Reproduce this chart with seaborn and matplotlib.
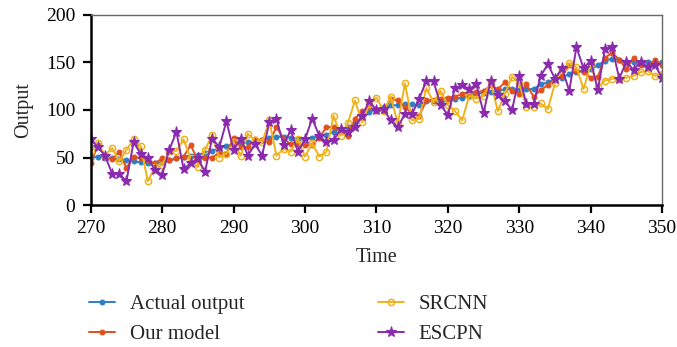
import numpy as np
import pandas as pd
import matplotlib
matplotlib.use("Agg")
import matplotlib.pyplot as plt
import seaborn as sns

time = list(range(270, 351))

actual_output = [50, 51, 50, 49, 48, 47, 46, 45, 44, 44,
                 45, 47, 49, 51, 52, 53, 55, 57, 60, 62,
                 64, 65, 66, 66, 68, 71, 72, 72, 71, 70,
                 70, 71, 72, 74, 77, 80, 82, 86, 92, 98,
                 101, 103, 105, 105, 106, 106, 105, 109, 109, 108,
                 110, 112, 113, 115, 117, 118, 119, 120, 122, 122,
                 121, 122, 122, 127, 129, 133, 134, 138, 140, 142,
                 143, 147, 152, 154, 153, 151, 150, 150, 150, 150, 150]

our_model = [44, 63, 52, 48, 56, 39, 51, 49, 47, 44,
             49, 47, 49, 51, 63, 47, 50, 50, 55, 54,
             71, 61, 61, 70, 68, 66, 82, 70, 64, 64,
             63, 63, 71, 82, 82, 77, 73, 91, 99, 103,
             99, 99, 112, 110, 103, 96, 94, 110, 111, 112,
             113, 114, 117, 119, 119, 120, 126, 122, 129, 120,
             117, 127, 114, 121, 126, 133, 136, 147, 141, 140,
             134, 135, 155, 160, 153, 143, 155, 147, 145, 153, 147]

srcnn = [57, 65, 52, 60, 46, 58, 69, 62, 25, 40,
         42, 57, 57, 69, 49, 40, 58, 74, 50, 54,
         66, 52, 75, 68, 66, 89, 52, 59, 56, 70,
         51, 65, 51, 56, 94, 73, 86, 110, 87, 106,
         113, 99, 114, 86, 128, 89, 91, 123, 108, 120,
         105, 99, 89, 115, 112, 115, 129, 99, 117, 135,
         128, 103, 103, 107, 101, 128, 143, 149, 145, 122,
         148, 124, 131, 133, 133, 134, 136, 140, 141, 136, 138]

escpn = [69, 61, 52, 33, 33, 25, 66, 54, 49, 37,
         32, 58, 77, 38, 44, 49, 35, 70, 61, 88,
         58, 70, 52, 64, 52, 87, 91, 63, 79, 56,
         69, 91, 73, 66, 68, 80, 77, 82, 94, 109,
         100, 101, 89, 82, 96, 96, 112, 131, 130, 105,
         95, 123, 126, 122, 127, 97, 131, 116, 109, 100,
         136, 106, 106, 136, 148, 133, 144, 120, 166, 144,
         152, 121, 164, 166, 133, 151, 142, 151, 145, 147, 134]

series_names = ["Actual output", "Our model", "SRCNN", "ESCPN"]
x_ticks = [270, 280, 290, 300, 310, 320, 330, 340, 350]
y_ticks = [0, 50, 100, 150, 200]

sns.set_style("ticks")
plt.rcParams['font.family'] = ['Liberation Serif', 'DejaVu Serif']
plt.rcParams['font.size'] = 14

fig = plt.figure(figsize=(6.77, 3.47), dpi=100)
ax = fig.add_axes([0.134, 0.409, 0.844, 0.548])

styles = {
    "Actual output": dict(color="#2F7EC4", marker="o", markersize=3.5, mfc="#2F7EC4", mec="#2F7EC4"),
    "Our model": dict(color="#E0501E", marker="o", markersize=3.5, mfc="#E0501E", mec="#E0501E"),
    "SRCNN": dict(color="#EFB21C", marker="o", markersize=4.5, mfc="none", mec="#EFB21C", mew=1.1),
    "ESCPN": dict(color="#8A2BAE", marker="*", markersize=8, mfc="#8A2BAE", mec="#8A2BAE"),
}
data = {"Actual output": actual_output, "Our model": our_model, "SRCNN": srcnn, "ESCPN": escpn}

for name in series_names:
    df = pd.DataFrame({"Time": time, "Output": data[name]})
    st = styles[name]
    sns.lineplot(data=df, x="Time", y="Output", ax=ax, label=name,
                 color=st["color"], marker=st["marker"], markersize=st["markersize"],
                 markerfacecolor=st["mfc"], markeredgecolor=st["mec"],
                 markeredgewidth=st.get("mew", 0.8), linewidth=1.4)

ax.set_xlim(270, 350)
ax.set_ylim(0, 200)
ax.set_xticks(x_ticks)
ax.set_yticks(y_ticks)
ax.set_xlabel("Time", labelpad=8, fontsize=14.5)
ax.set_ylabel("Output", labelpad=9, fontsize=14.5)
for s in ["left", "bottom"]:
    ax.spines[s].set_color("black")
    ax.spines[s].set_linewidth(1.8)
for s in ["top", "right"]:
    ax.spines[s].set_color("#666666")
    ax.spines[s].set_linewidth(1.0)
ax.tick_params(direction="out", length=6, width=1.6, colors="black",
               labelsize=14, pad=5)

handles, labels = ax.get_legend_handles_labels()
ax.get_legend().remove()
fig.legend(handles, labels, loc="upper left", bbox_to_anchor=(0.132, 0.152),
           ncol=2, frameon=False, columnspacing=6.4, handlelength=1.25,
           handletextpad=0.7, labelspacing=0.5, fontsize=15,
           borderaxespad=0, borderpad=0)

fig.savefig("out.png", dpi=100)
